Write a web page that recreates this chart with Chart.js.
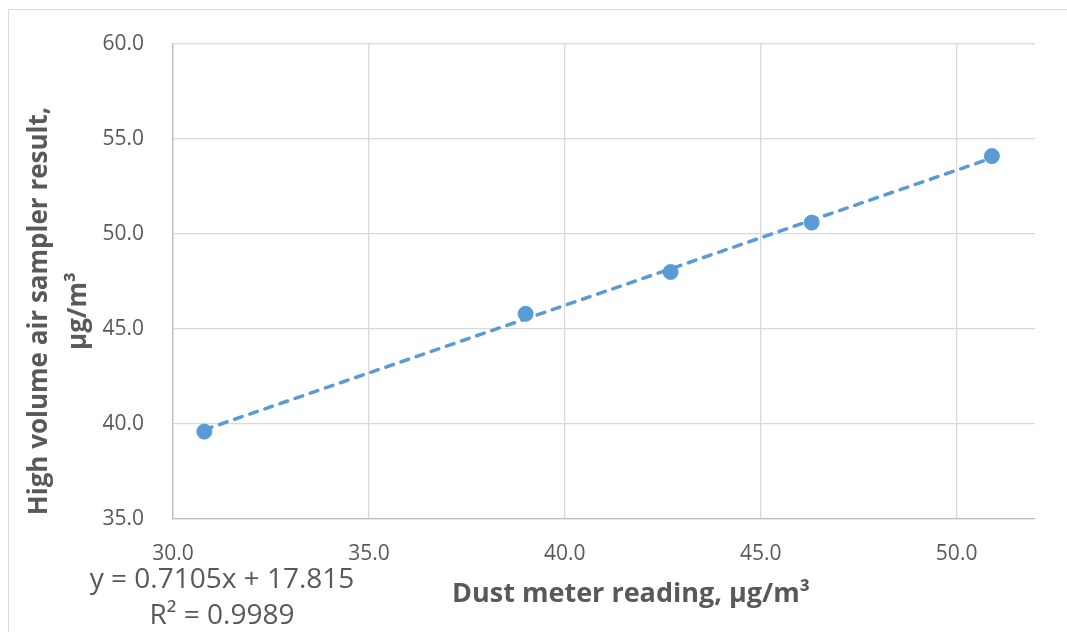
<!DOCTYPE html>
<html>
<head>
<meta charset="utf-8">
<script src="https://cdn.jsdelivr.net/npm/chart.js@4.4.1/dist/chart.umd.min.js"></script>
<style>
  html, body { margin: 0; padding: 0; background: #ffffff; }
  #wrap { position: relative; width: 1067px; height: 632px; overflow: hidden; }
  #c { position: absolute; left: 0; top: 0; }
  .lbl { position: absolute; font-family: "Open Sans", sans-serif; color: #595959; white-space: nowrap; }
  #ytitle { left: 57px; top: 311px; width: 520px; text-align: center; font-weight: bold; font-size: 26px; line-height: 39px;
            transform: translate(-50%, -50%) rotate(-90deg); }
  #xtitle { left: 631px; top: 591px; transform: translate(-50%, -50%); font-weight: bold; font-size: 27px; }
  #eq { left: 222px; top: 595px; transform: translate(-50%, -50%); font-size: 28px; line-height: 36px; text-align: center; }
</style>
</head>
<body>
<div id="wrap">
  <canvas id="c" width="1067" height="632"></canvas>
  <div class="lbl" id="ytitle">High volume air sampler result,<br>µg/m³</div>
  <div class="lbl" id="xtitle">Dust meter reading, µg/m³</div>
  <div class="lbl" id="eq">y = 0.7105x + 17.815<br>R² = 0.9989</div>
</div>
<script>
// ---- data ----
const dustMeter = [30.8, 39.0, 42.7, 46.3, 50.9];
const highVolume = [39.6, 45.8, 48.0, 50.6, 54.1];
const trendX = [30.8, 50.9];
const trendY = [39.7, 54.0];
const xTickValues = [30, 35, 40, 45, 50];
const yTickValues = [35, 40, 45, 50, 55, 60];

const blue = '#5B9BD5';
const textColor = '#595959';

const outerBorder = {
  id: 'outerBorder',
  beforeDraw(chart) {
    const ctx = chart.ctx;
    ctx.save();
    ctx.strokeStyle = '#d9d9d9';
    ctx.lineWidth = 1;
    ctx.beginPath();
    ctx.moveTo(8.5, 640);
    ctx.lineTo(8.5, 9.5);
    ctx.lineTo(1080, 9.5);
    ctx.stroke();
    ctx.restore();
  }
};

new Chart(document.getElementById('c'), {
  type: 'scatter',
  data: {
    datasets: [
      {
        label: 'Trend',
        type: 'line',
        data: trendX.map((x, i) => ({ x: x, y: trendY[i] })),
        borderColor: blue,
        borderWidth: 3.5,
        borderDash: [8, 8],
        borderCapStyle: 'round',
        pointRadius: 0,
        fill: false,
        order: 2
      },
      {
        label: 'Data',
        data: dustMeter.map((x, i) => ({ x: x, y: highVolume[i] })),
        backgroundColor: blue,
        borderColor: blue,
        pointRadius: 7.5,
        pointHoverRadius: 7.5,
        order: 1
      }
    ]
  },
  options: {
    responsive: false,
    animation: false,
    devicePixelRatio: 1,
    layout: { padding: { left: 0, top: 44, right: 32, bottom: 0 } },
    plugins: { legend: { display: false }, tooltip: { enabled: false } },
    scales: {
      x: {
        type: 'linear',
        min: 30, max: 52,
        afterBuildTicks: (s) => { s.ticks = xTickValues.map(v => ({ value: v })); },
        afterFit: (s) => { s.height = 113; },
        grid: { color: '#d9d9d9', lineWidth: 1.3, drawTicks: false },
        border: { display: true, color: '#bfbfbf', width: 1.3 },
        ticks: {
          padding: 22,
          color: textColor,
          font: { family: 'Open Sans', size: 21 },
          maxRotation: 0,
          callback: (v) => Number(v).toFixed(1)
        }
      },
      y: {
        type: 'linear',
        min: 35, max: 60,
        afterBuildTicks: (s) => { s.ticks = yTickValues.map(v => ({ value: v })); },
        afterFit: (s) => { s.width = 173; },
        grid: { color: '#d9d9d9', lineWidth: 1.3, drawTicks: false },
        border: { display: true, color: '#bfbfbf', width: 1.3 },
        ticks: {
          padding: 29,
          color: textColor,
          font: { family: 'Open Sans', size: 21 },
          callback: (v) => Number(v).toFixed(1)
        }
      }
    }
  },
  plugins: [outerBorder]
});
</script>
</body>
</html>
